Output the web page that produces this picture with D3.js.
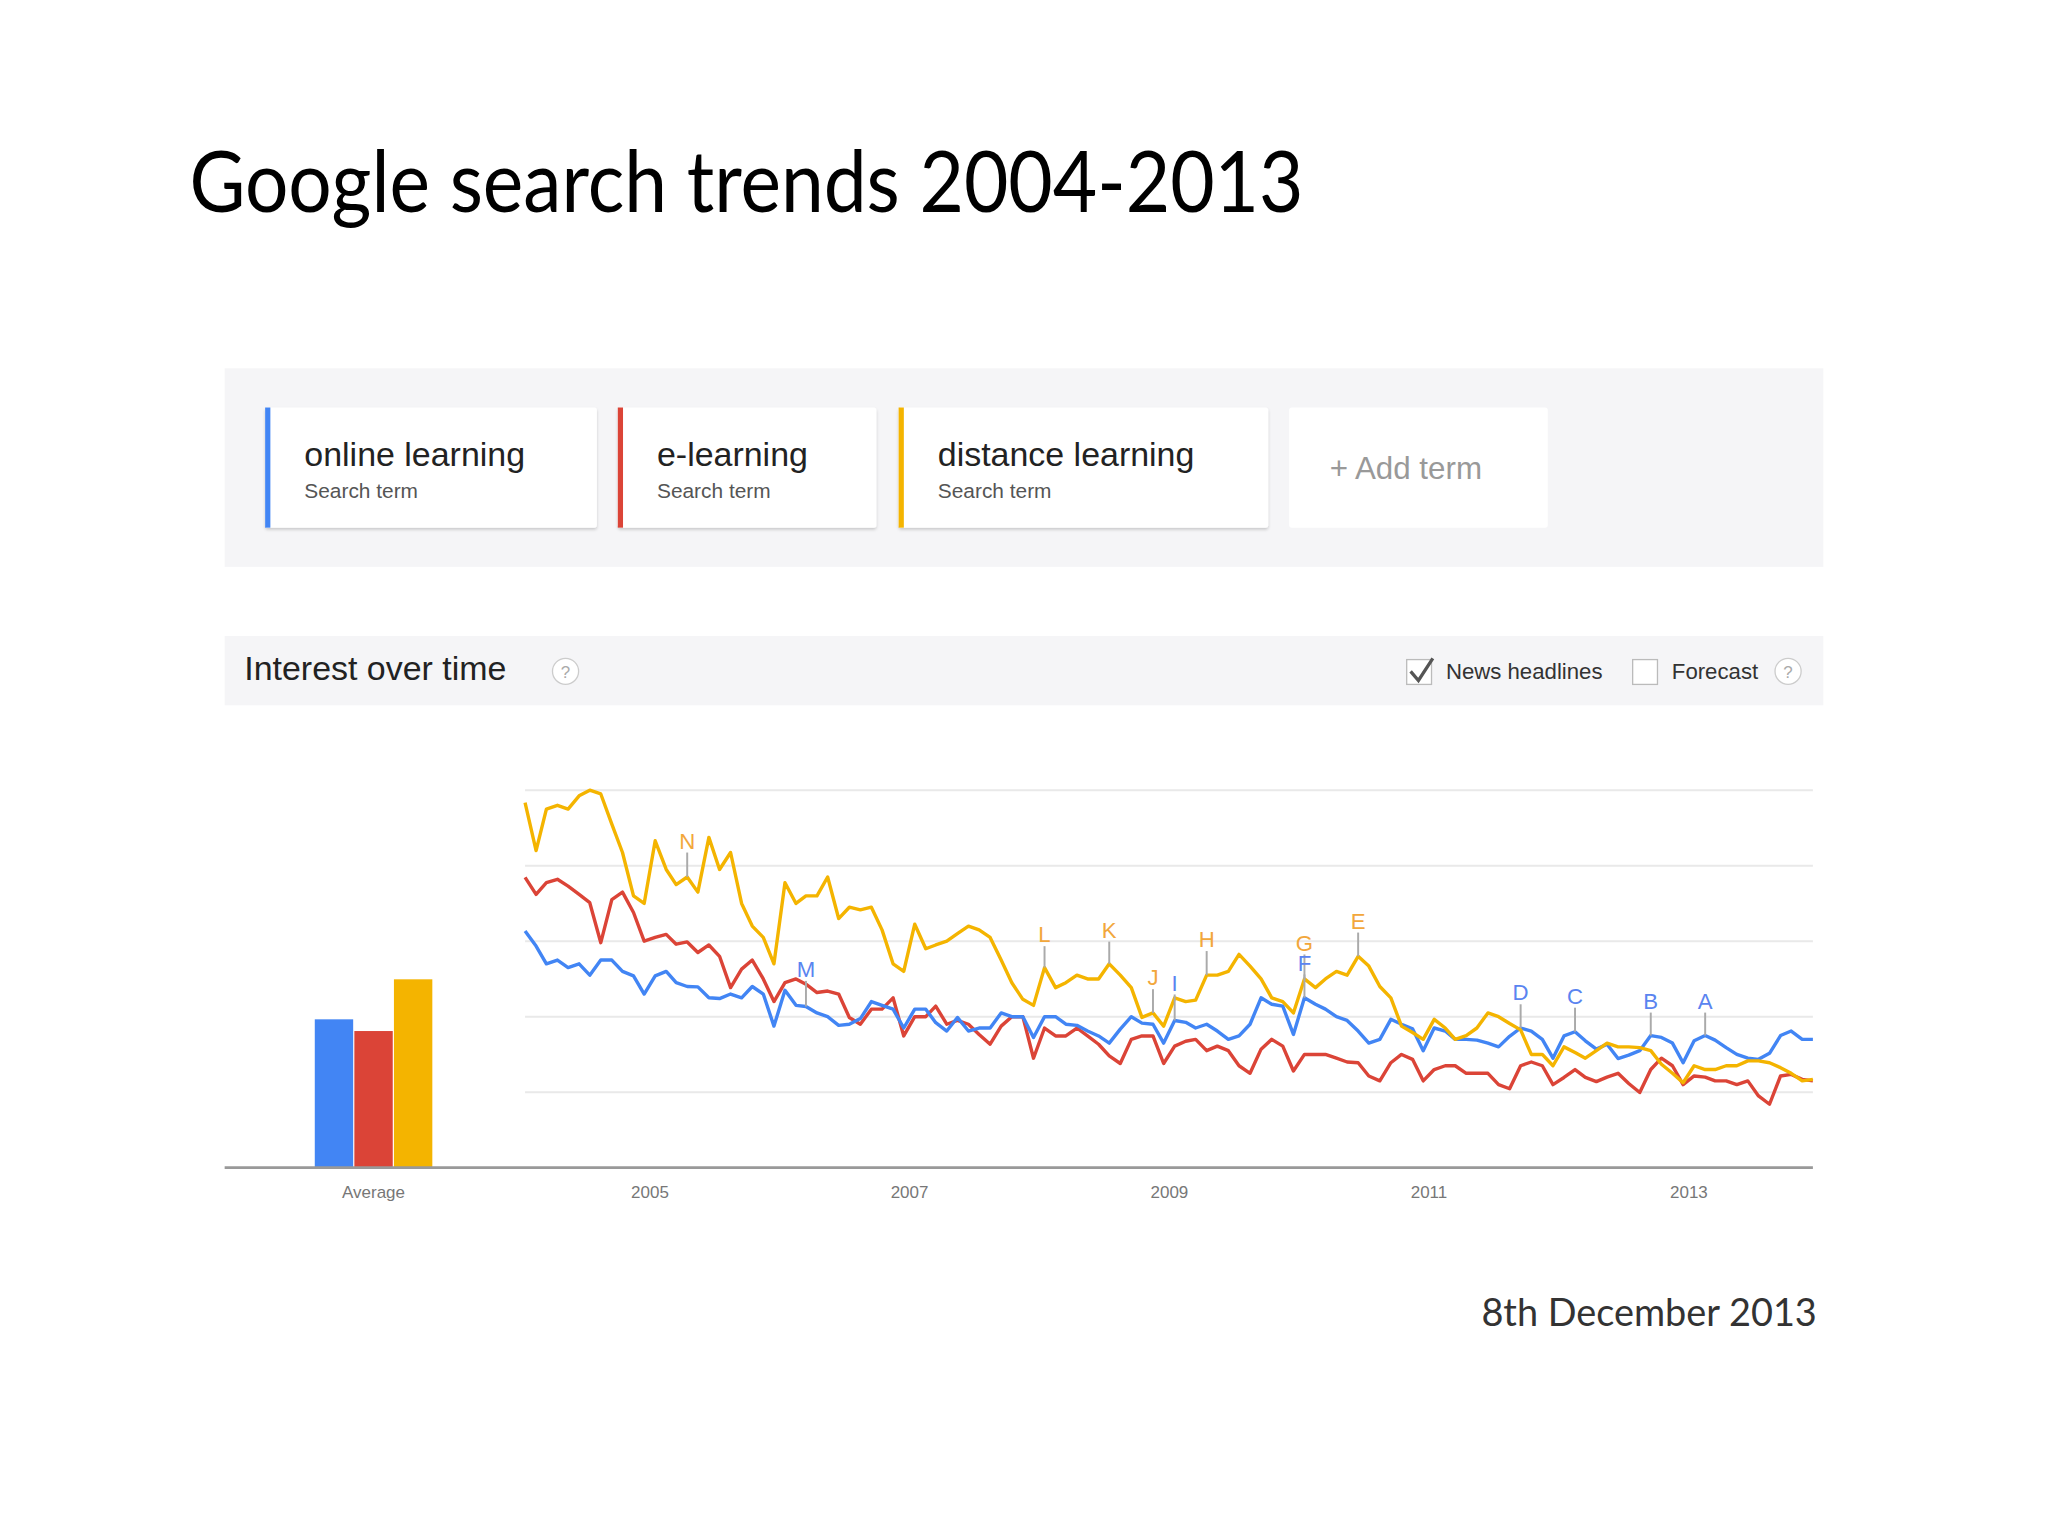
<!DOCTYPE html>
<html>
<head>
<meta charset="utf-8">
<script src="https://cdn.jsdelivr.net/npm/d3@7"></script>
<style>
  html, body { margin: 0; padding: 0; background: #fff; }
  svg { display: block; }
</style>
</head>
<body>
<svg id="chart" width="2048" height="1536" viewBox="0 0 1568 1176"></svg>
<script>
// monthly values, Jan 2004 .. Dec 2013
var onlineLearning = [62.7,58.7,54,55,53,54,51,55,55,52,50.8,46,50.8,52,49,48,47.9,45,44.8,46,45,48,46,37.5,47,43,42.7,41,40,37.7,38,39.5,
  44,43,42,37,42,42,38.4,36.2,39.8,36.2,37,37,41,40,40,34.5,40,40,38,37.7,36.2,34.9,33,36.7,40,38.3,38,33,39,38.5,
  37,38,36.2,34,34.9,38,45,43.3,42.8,35.3,45,43.3,42,40,39,36.2,33,34,39.3,38,36.8,31,37,36.2,34,34,33.8,33,32,34.8,
  37,36.2,34,29,34.9,36,33.6,31.4,32.7,28.9,29.8,31,35,34.5,33,27.8,33.6,35,33.8,31.8,30,29,28.7,30.3,35,36.2,34,34];
var eLearning = [76.9,72.4,75.5,76.4,74.6,72.4,70.2,59.6,71,73,67.6,60,61,61.8,59.2,59.8,57,59,56,47.7,52.6,55,50,44,49,50,48.6,46.4,46.8,46,39.8,38,
  42,42,45,34.9,40,40,42.8,38,39,38,35.3,32.7,37.5,40,40,29,37,34.9,34.9,37,34.9,32.7,29.6,27.6,34,34.9,34.9,27.6,32.2,33.5,
  34,31,32.2,31,27,25,31.4,34,32.2,25.6,30,30,30,29,28,27.8,24.3,23,27.8,30,28.7,23,26,27,27,25,25,25,22,20.9,
  27,28,27,22,23.9,26,23.9,22.8,24,25,22.3,19.9,26,29,27,22,24.3,24,23,23,22,23,19,16.8,24.3,24.7,23.4,23];
var distanceLearning = [96.7,84,95,96,95,98.5,100,99,91,83.5,72,70,86.6,79,75,77,73,87.5,79,83.5,70,64,61,54,75.5,70,72,72,77,66,69,68.3,
  69,63,54,52,64.5,58,59,60,62,64,63,61,55,49,44.6,43,53,47.7,49,51,50,50,54,51,47.7,39.8,41,37.5,45,44,
  44.4,51,51,52,56.5,53.4,50,45,44,41,50,47.7,50,52,51,56,53.4,48,45,37.5,35.8,34,39.3,37,34,35,37,41,40,38.2,
  36.5,30,30,27,32,30.5,29,31,33,32,32,31.8,31,27.4,25,22.5,27,26,26,27,27,28.3,28.3,27.8,26.5,25,23,23.4];
var averages = [39.3, 36.2, 49.9];

var termNames = ["online learning", "e-learning", "distance learning"];
var termColors = ["#4285f4", "#db4437", "#f4b400"];
var yearTicks = [2005, 2007, 2009, 2011, 2013];
var gridValues = [20, 40, 60, 80, 100];

// news headline markers: letter, month index, series, label height (value)
var markerLetters = ["N","M","L","K","J","I","H","G","F","E","D","C","B","A"];
var markerMonths  = [15, 26, 48, 54, 58, 60, 63, 72, 72, 77, 92, 97, 104, 109];
var markerSeries  = [2, 0, 2, 2, 2, 0, 2, 2, 0, 2, 0, 0, 0, 0];
var markerLabelAt = [86.6, 52.6, 61.8, 63, 50.4, 49, 60.5, 59.6, 54.3, 65.4, 46.4, 45.5, 44.2, 44.2];

var uiFont = "'Liberation Sans', Arial, sans-serif";
var svg = d3.select("#chart");

svg.append("text").attr("x", 145).attr("y", 162)
  .attr("font-family", "Lato, 'Open Sans', sans-serif").attr("font-size", 66)
  .attr("textLength", 853).attr("lengthAdjust", "spacingAndGlyphs")
  .attr("fill", "#000").text("Google search trends 2004-2013");

// search term panel
svg.append("rect").attr("x", 172).attr("y", 282).attr("width", 1224).attr("height", 152).attr("fill", "#f5f5f7");
var cardX = [203, 473, 688, 987], cardW = [254, 198, 283, 198];
var defs = svg.append("defs");
var f = defs.append("filter").attr("id", "sh").attr("x", "-5%").attr("y", "-5%").attr("width", "110%").attr("height", "120%");
f.append("feDropShadow").attr("dx", 0).attr("dy", 1.5).attr("stdDeviation", 1.2).attr("flood-color", "#000").attr("flood-opacity", 0.18);

cardX.forEach(function(x, i){
  var g = svg.append("g");
  g.append("rect").attr("x", x).attr("y", 312).attr("width", cardW[i]).attr("height", 92).attr("rx", 2)
    .attr("fill", "#fff").attr("filter", i < 3 ? "url(#sh)" : null);
  if (i < 3) {
    g.append("rect").attr("x", x).attr("y", 312).attr("width", 4).attr("height", 92).attr("fill", termColors[i]);
    g.append("text").attr("x", x + 30).attr("y", 357).attr("font-family", uiFont).attr("font-size", 26)
      .attr("fill", "#222").text(termNames[i]);
    g.append("text").attr("x", x + 30).attr("y", 381).attr("font-family", uiFont).attr("font-size", 16)
      .attr("fill", "#555").text("Search term");
  } else {
    g.append("text").attr("x", x + 31).attr("y", 367).attr("font-family", uiFont).attr("font-size", 24)
      .attr("fill", "#999").text("+ Add term");
  }
});

// header band
svg.append("rect").attr("x", 172).attr("y", 487).attr("width", 1224).attr("height", 53).attr("fill", "#f5f5f7");
svg.append("text").attr("x", 187).attr("y", 521).attr("font-family", uiFont).attr("font-size", 26)
  .attr("fill", "#222").text("Interest over time");
[433, 1369].forEach(function(cx){
  svg.append("circle").attr("cx", cx).attr("cy", 514).attr("r", 10).attr("fill", "#fff").attr("stroke", "#ccc");
  svg.append("text").attr("x", cx).attr("y", 519).attr("text-anchor", "middle").attr("font-family", uiFont)
    .attr("font-size", 13).attr("fill", "#aaa").text("?");
});
svg.append("rect").attr("x", 1077).attr("y", 505).attr("width", 19).attr("height", 19).attr("fill", "#fff").attr("stroke", "#bbb");
svg.append("path").attr("d", "M1080,514 L1086,521 L1097,504").attr("fill", "none").attr("stroke", "#555").attr("stroke-width", 2.5);
svg.append("text").attr("x", 1107).attr("y", 520).attr("font-family", uiFont).attr("font-size", 17).attr("fill", "#333").text("News headlines");
svg.append("rect").attr("x", 1250).attr("y", 505).attr("width", 19).attr("height", 19).attr("fill", "#fff").attr("stroke", "#bbb");
svg.append("text").attr("x", 1280).attr("y", 520).attr("font-family", uiFont).attr("font-size", 17).attr("fill", "#333").text("Forecast");

// scales
var months = d3.range(onlineLearning.length).map(function(i){ return new Date(2004, i, 1); });
var x = d3.scaleTime().domain([months[0], months[months.length - 1]]).range([402, 1388]);
var y = d3.scaleLinear().domain([0, 100]).range([894, 605]);

svg.append("g").selectAll("line").data(gridValues).enter().append("line")
  .attr("x1", 402).attr("x2", 1388).attr("y1", function(d){ return y(d); }).attr("y2", function(d){ return y(d); })
  .attr("stroke", "#e9e9e9").attr("stroke-width", 1.5);

// average bars
var xb = d3.scaleBand().domain(termNames).range([241, 331]).paddingInner(0.03);
svg.append("g").selectAll("rect").data(averages).enter().append("rect")
  .attr("x", function(d, i){ return xb(termNames[i]); }).attr("width", xb.bandwidth())
  .attr("y", function(d){ return y(d); }).attr("height", function(d){ return y(0) - y(d); })
  .attr("fill", function(d, i){ return termColors[i]; });

svg.append("line").attr("x1", 172).attr("x2", 1388).attr("y1", y(0)).attr("y2", y(0))
  .attr("stroke", "#999").attr("stroke-width", 2);

svg.append("text").attr("x", 286).attr("y", 917).attr("text-anchor", "middle").attr("font-family", uiFont)
  .attr("font-size", 13).attr("fill", "#777").text("Average");
svg.append("g").selectAll("text").data(yearTicks).enter().append("text")
  .attr("x", function(d){ return x(new Date(d, 0, 1)) - 4; }).attr("y", 917).attr("text-anchor", "middle")
  .attr("font-family", uiFont).attr("font-size", 13).attr("fill", "#777").text(function(d){ return d; });

// lines
var series = [onlineLearning, eLearning, distanceLearning];
var line = d3.line().x(function(d, i){ return x(months[i]); }).y(function(d){ return y(d); });
[1, 0, 2].forEach(function(s){
  svg.append("path").datum(series[s]).attr("d", line).attr("fill", "none")
    .attr("stroke", termColors[s]).attr("stroke-width", 2.6).attr("stroke-linejoin", "round");
});

// headline markers
var markerColors = ["#5a84f0", "#db4437", "#f2a73b"];
markerLetters.forEach(function(l, k){
  var xi = x(months[markerMonths[k]]);
  var v = series[markerSeries[k]][markerMonths[k]];
  svg.append("line").attr("x1", xi).attr("x2", xi).attr("y1", y(v)).attr("y2", y(markerLabelAt[k]) + 9)
    .attr("stroke", "#aaa").attr("stroke-width", 1.5);
  svg.append("text").attr("x", xi).attr("y", y(markerLabelAt[k]) + 6).attr("text-anchor", "middle")
    .attr("font-family", uiFont).attr("font-size", 17).attr("fill", markerColors[markerSeries[k]]).text(l);
});

svg.append("text").attr("x", 1391).attr("y", 1015).attr("text-anchor", "end")
  .attr("font-family", "Lato, 'Open Sans', sans-serif").attr("font-size", 29).attr("fill", "#333")
  .text("8th December 2013");
</script>
</body>
</html>
